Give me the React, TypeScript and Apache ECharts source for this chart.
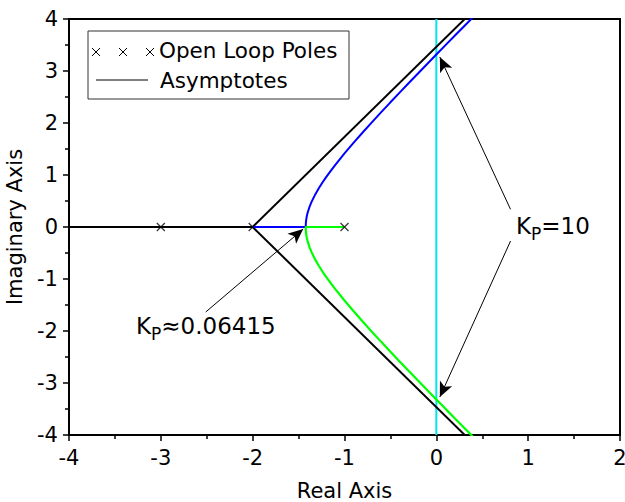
import React, { useEffect, useRef } from 'react';
import * as echarts from 'echarts';

// Open loop poles (real, imaginary)
const poles: number[][] = [[-3, 0], [-2, 0], [-1, 0]];

// Asymptotes from the centroid (-2, 0)
const asymUpper: number[][] = [[-2, 0], [0.4, 4.157]];
const asymLower: number[][] = [[-2, 0], [0.4, -4.157]];
const asymReal: number[][] = [[-2, 0], [-4, 0]];

// Imaginary axis reference line
const imagAxisLine: number[][] = [[0, -4], [0, 4]];

// Root locus branches (real part, imaginary part)
const blueStart: number[] = [-2, 0];
const greenStart: number[] = [-1, 0];
const locusRe: number[] = [
  -1.4226, -1.42, -1.415, -1.41, -1.4, -1.38, -1.36, -1.32, -1.28, -1.24, -1.2, -1.15, -1.1,
  -1.0, -0.9, -0.8, -0.7, -0.6, -0.5, -0.4, -0.3, -0.2, -0.1, 0, 0.1, 0.2, 0.3, 0.4,
];
const blueIm: number[] = [
  0, 0.0959, 0.1633, 0.2105, 0.2828, 0.3914, 0.4783, 0.6223, 0.7451, 0.856, 0.9592, 1.0805, 1.1958,
  1.4142, 1.6217, 1.8221, 2.0174, 2.2091, 2.3979, 2.5846, 2.7695, 2.953, 3.1353, 3.3166, 3.4972, 3.677, 3.8562, 4.0349,
];
const greenIm: number[] = [
  0, -0.0959, -0.1633, -0.2105, -0.2828, -0.3914, -0.4783, -0.6223, -0.7451, -0.856, -0.9592, -1.0805, -1.1958,
  -1.4142, -1.6217, -1.8221, -2.0174, -2.2091, -2.3979, -2.5846, -2.7695, -2.953, -3.1353, -3.3166, -3.4972, -3.677, -3.8562, -4.0349,
];

// Annotation arrows: [from, to] in data coordinates
const arrowBreakaway: number[][] = [[-2.511, -1.635], [-1.45, -0.04]];
const arrowUpper: number[][] = [[0.808, 0.34], [0.038, 3.27]];
const arrowLower: number[][] = [[0.808, -0.27], [0.038, -3.27]];

const xMin = -4, xMax = 2, yMin = -4, yMax = 4;

const FONT = 'DejaVu Sans';

export default function App() {
  const ref = useRef<HTMLDivElement>(null);
  useEffect(() => {
    if (!ref.current) return;
    const chart = echarts.init(ref.current, undefined, { renderer: 'svg' });
    const blueData = [blueStart, ...locusRe.map((x, i) => [x, blueIm[i]])];
    const greenData = [greenStart, ...locusRe.map((x, i) => [x, greenIm[i]])];
    const axisCommon = {
      type: 'value' as const,
      interval: 1,
      axisLine: { show: true, onZero: false, lineStyle: { color: '#000', width: 2 } },
      axisTick: { show: true, inside: false, length: 6, lineStyle: { color: '#000', width: 1.5 } },
      minorTick: { show: true, splitNumber: 2, length: 4, lineStyle: { color: '#000', width: 1.5 } },
      splitLine: { show: false },
      minorSplitLine: { show: false },
      nameLocation: 'middle' as const,
      nameTextStyle: { fontFamily: FONT, fontSize: 21, color: '#000' },
    };
    const richK = {
      k: { fontFamily: FONT, fontSize: 23, color: '#000', lineHeight: 32, verticalAlign: 'middle' },
      p: { fontFamily: FONT, fontSize: 17, color: '#000', lineHeight: 16, verticalAlign: 'bottom' },
    };
    const arrowLine = (a: number[][]) => [{ coord: a[0] }, { coord: a[1] }];
    chart.setOption({
      animation: false,
      backgroundColor: '#fff',
      grid: {
        left: 69, right: 5, top: 19, bottom: 67,
        outerBoundsMode: 'none', containLabel: false,
        show: true, borderColor: '#000', borderWidth: 2,
      },
      xAxis: {
        ...axisCommon,
        min: xMin,
        max: xMax,
        name: 'Real Axis',
        nameGap: 45,
        axisLabel: { margin: 12, fontFamily: FONT, fontSize: 21, color: '#000' },
      },
      yAxis: {
        ...axisCommon,
        min: yMin,
        max: yMax,
        name: 'Imaginary Axis',
        nameGap: 44,
        axisLabel: { margin: 11, fontFamily: FONT, fontSize: 21, color: '#000' },
      },
      series: [
        {
          type: 'line',
          data: imagAxisLine,
          symbol: 'none',
          lineStyle: { color: '#00e5ee', width: 2 },
          markLine: {
            silent: true,
            symbol: ['none', 'arrow'],
            symbolSize: [10, 15],
            lineStyle: { color: '#000', width: 1, type: 'solid' },
            label: { show: false },
            data: [arrowLine(arrowBreakaway), arrowLine(arrowUpper), arrowLine(arrowLower)],
          },
          z: 1,
        },
        { type: 'line', data: asymReal, symbol: 'none', lineStyle: { color: '#000', width: 2 }, z: 2 },
        { type: 'line', data: asymUpper, symbol: 'none', lineStyle: { color: '#000', width: 2 }, z: 2 },
        { type: 'line', data: asymLower, symbol: 'none', lineStyle: { color: '#000', width: 2 }, z: 2 },
        { type: 'line', data: blueData, symbol: 'none', lineStyle: { color: '#0000ff', width: 2 }, z: 3 },
        { type: 'line', data: greenData, symbol: 'none', lineStyle: { color: '#00ff00', width: 2.2 }, z: 3 },
        {
          type: 'scatter',
          data: poles,
          symbol: 'path://M0,0L10,10M10,0L0,10',
          symbolSize: 8,
          itemStyle: { color: 'none', borderColor: '#000', borderWidth: 1.2 },
          z: 4,
        },
      ],
      graphic: [
        {
          type: 'group',
          z: 100,
          children: [
            { type: 'rect', shape: { x: 88, y: 31, width: 261, height: 68 }, style: { fill: '#fff', stroke: '#333', lineWidth: 1 } },
            { type: 'line', shape: { x1: 92, y1: 48, x2: 100, y2: 56 }, style: { stroke: '#000', lineWidth: 1 } },
            { type: 'line', shape: { x1: 92, y1: 56, x2: 100, y2: 48 }, style: { stroke: '#000', lineWidth: 1 } },
            { type: 'line', shape: { x1: 119, y1: 48, x2: 127, y2: 56 }, style: { stroke: '#000', lineWidth: 1 } },
            { type: 'line', shape: { x1: 119, y1: 56, x2: 127, y2: 48 }, style: { stroke: '#000', lineWidth: 1 } },
            { type: 'line', shape: { x1: 146, y1: 48, x2: 154, y2: 56 }, style: { stroke: '#000', lineWidth: 1 } },
            { type: 'line', shape: { x1: 146, y1: 56, x2: 154, y2: 48 }, style: { stroke: '#000', lineWidth: 1 } },
            { type: 'text', x: 159, y: 50, style: { text: 'Open Loop Poles', font: `21.5px "${FONT}"`, fill: '#000', verticalAlign: 'middle', align: 'left' } },
            { type: 'line', shape: { x1: 96, y1: 80, x2: 148, y2: 80 }, style: { stroke: '#000', lineWidth: 1 } },
            { type: 'text', x: 160, y: 80, style: { text: 'Asymptotes', font: `21.5px "${FONT}"`, fill: '#000', verticalAlign: 'middle', align: 'left' } },
          ],
        },
        {
          type: 'text',
          z: 100,
          x: 516,
          y: 226,
          style: { text: '{k|K}{p|P}{k|=10}', rich: richK, verticalAlign: 'middle', align: 'left' },
        },
        {
          type: 'text',
          z: 100,
          x: 136,
          y: 326,
          style: { text: '{k|K}{p|P}{k|≈0.06415}', rich: richK, verticalAlign: 'middle', align: 'left' },
        },
      ],
    });
    return () => chart.dispose();
  }, []);
  return <div ref={ref} style={{ position: 'fixed', left: 0, top: 0, width: 625, height: 502, background: '#fff' }} />;
}
